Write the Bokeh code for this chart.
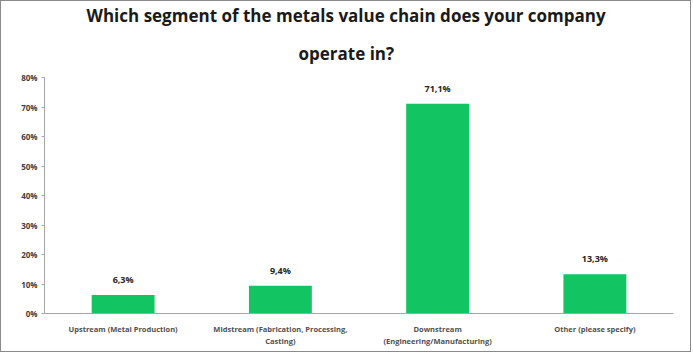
from bokeh.plotting import figure
from bokeh.models import ColumnDataSource, NumeralTickFormatter, FixedTicker, Title
from bokeh.core.properties import value
from bokeh.embed import file_html
from bokeh.resources import INLINE

categories = ["Upstream (Metal Production)",
              "Midstream (Fabrication, Processing,\nCasting)",
              "Downstream\n(Engineering/Manufacturing)",
              "Other (please specify)"]
shares = [0.063, 0.094, 0.711, 0.133]
share_labels = ["6,3%", "9,4%", "71,1%", "13,3%"]
title_lines = ["Which segment of the metals value chain does your company", "operate in?"]

src = ColumnDataSource(dict(cat=categories, val=shares, lab=share_labels))

p = figure(x_range=categories, y_range=(0, 0.8), width=691, height=352,
           output_backend="svg", toolbar_location=None,
           min_border_left=43, min_border_right=19, min_border_top=5,
           min_border_bottom=40)
p.styles = {"border": "1px solid #8a8a8a"}

def style_title(t, off):
    t.align = "left"
    t.text_font = "Open Sans"
    t.text_font_size = "17px"
    t.text_font_style = "bold"
    t.text_color = "#1a1a1a"
    t.offset = off
    t.standoff = 0

p.title.text = title_lines[0]
style_title(p.title, 42)
t2 = Title(text=title_lines[1])
style_title(t2, 254)
t2.standoff = 26
p.add_layout(t2, "above")

p.vbar(x="cat", top="val", width=0.4, source=src, color="#12C462", line_color=None)
p.text(x="cat", y="val", text="lab", source=src, text_align="center",
       text_baseline="bottom", y_offset=-9, text_font=value("Open Sans"),
       text_font_size="9px", text_font_style="bold", text_color="#262626")

p.grid.visible = False
p.outline_line_color = None

p.yaxis.ticker = FixedTicker(ticks=[0, 0.1, 0.2, 0.3, 0.4, 0.5, 0.6, 0.7, 0.8])
p.yaxis.formatter = NumeralTickFormatter(format="0%")
for ax in (p.xaxis, p.yaxis):
    ax.axis_line_color = "#a6a6a6"
    ax.major_tick_line_color = "#a6a6a6"
    ax.minor_tick_line_color = None
    ax.major_label_text_font = "Open Sans"
    ax.major_label_text_font_size = "8px"
    ax.major_label_text_font_style = "bold"
    ax.major_label_text_color = "#404040"
p.yaxis.major_tick_out = 3
p.yaxis.major_tick_in = 0
p.xaxis.major_tick_line_color = None
p.xaxis.major_label_standoff = 4
p.xaxis.major_label_text_font_size = "7.5px"
p.xaxis.major_label_text_color = "#505050"
p.yaxis.major_label_standoff = 4

open("out.html", "w").write(file_html(p, INLINE))
